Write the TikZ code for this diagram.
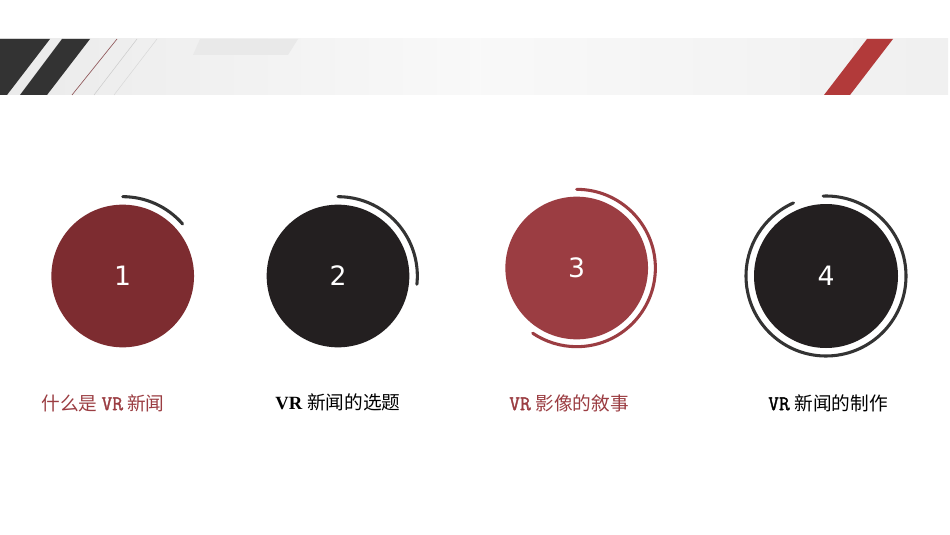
\documentclass[tikz,border=0pt]{standalone}
\usepackage{fontspec}
\setmainfont{Liberation Serif}
\setmonofont[FakeBold=1.5,Scale=1.12]{Latin Modern Mono}
\newfontfamily\cjk{Noto Sans CJK SC}
\newfontfamily\numfont{DejaVu Sans}
\usetikzlibrary{calc}
\definecolor{darkred}{HTML}{7D2C30}
\definecolor{midred}{HTML}{9B3D42}
\definecolor{blackc}{HTML}{231F20}
\definecolor{arcgray}{HTML}{333333}
\definecolor{stripe}{HTML}{333333}
\definecolor{redstripe}{HTML}{B23A3A}
\tikzset{
  disc/.style={circle, inner sep=0pt, minimum size=107pt, text=white, font=\numfont\fontsize{20pt}{24pt}\selectfont},
  ring/.style={line width=2.3pt, line cap=round},
  lbl/.style={inner sep=0pt, font=\fontsize{14pt}{16pt}\selectfont}
}
\begin{document}
\begin{tikzpicture}[x=0.75pt,y=-0.75pt]
\useasboundingbox[fill=white] (0,0) rectangle (950,535);
% banner
\shade[left color=gray!16, right color=gray!12, middle color=gray!5] (0,39) rectangle (948,95);
\fill[gray!17] (200,39) -- (298,39) -- (288,55) -- (193,55) -- cycle;
\fill[stripe] (0,39) -- (50,39) -- (7,95) -- (0,95) -- cycle;
\fill[stripe] (62,39) -- (90,39) -- (47,95) -- (20,95) -- cycle;
\draw[line width=0.5pt, color=midred!60!gray] (117,39) -- (72,95);
\draw[line width=0.4pt, color=gray!40] (137,39) -- (94,95);
\draw[line width=0.4pt, color=gray!30] (157,39) -- (114,95);
\fill[redstripe] (867,39) -- (893,39) -- (850,95) -- (824,95) -- cycle;
% circles
\node[disc, fill=darkred] (c1) at (122.7,276) {1};
\node[disc, fill=blackc] (c2) at (338,276) {2};
\node[disc, fill=midred] (c3) at (576.7,268) {3};
\node[disc, fill=blackc, minimum size=108pt] (c4) at (826,276) {4};
% arcs
\draw[ring, arcgray] ([shift={(90:59.5pt)}]c1.center) arc[start angle=90, end angle=41, radius=59.5pt];
\draw[ring, arcgray] ([shift={(90:59.5pt)}]c2.center) arc[start angle=90, end angle=-6, radius=59.5pt];
\draw[ring, midred] ([shift={(90:59pt)}]c3.center) arc[start angle=90, end angle=-124, radius=59pt];
\draw[ring, arcgray] ([shift={(92:60pt)}]c4.center) arc[start angle=92, end angle=-246, radius=60pt];
% labels
\node[lbl, text=midred] (l1) at (103,403) {\cjk 什么是 {\ttfamily VR} 新闻};
\node[lbl, text=black] (l2) at (338,402) {\textbf{VR} {\cjk 新闻的选题}};
\node[lbl, text=midred] (l3) at (569,403) {\texttt{VR} {\cjk 影像的敘事}};
\node[lbl, text=black] (l4) at (828,403) {\texttt{VR} {\cjk 新闻的制作}};
\end{tikzpicture}
\end{document}
